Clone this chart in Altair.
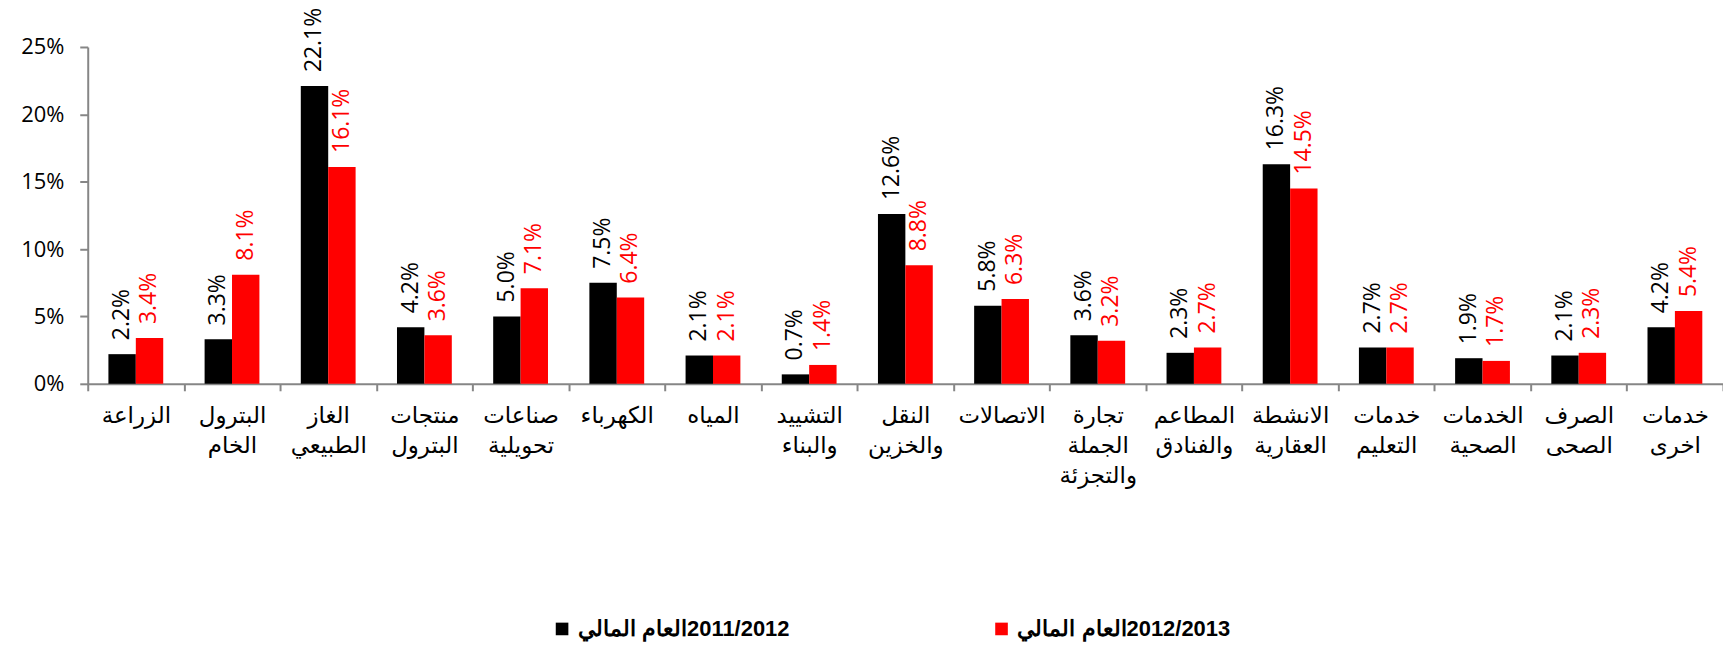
import altair as alt
import pandas as pd

# ---- data ----
categories = [
    "الزراعة",
    "البترول|الخام",
    "الغاز|الطبيعي",
    "منتجات|البترول",
    "صناعات|تحويلية",
    "الكهرباء",
    "المياه",
    "التشييد|والبناء",
    "النقل|والخزين",
    "الاتصالات",
    "تجارة|الجملة|والتجزئة",
    "المطاعم|والفنادق",
    "الانشطة|العقارية",
    "خدمات|التعليم",
    "الخدمات|الصحية",
    "الصرف|الصحى",
    "خدمات|اخرى",
]
series_names = ["2011/2012", "2012/2013"]
values_2011_2012 = [2.2, 3.3, 22.1, 4.2, 5.0, 7.5, 2.1, 0.7, 12.6, 5.8, 3.6, 2.3, 16.3, 2.7, 1.9, 2.1, 4.2]
values_2012_2013 = [3.4, 8.1, 16.1, 3.6, 7.1, 6.4, 2.1, 1.4, 8.8, 6.3, 3.2, 2.7, 14.5, 2.7, 1.7, 2.3, 5.4]
y_ticks = [0, 5, 10, 15, 20, 25]
legend_prefix = "العام المالي"
colors = ["#000000", "#ff0000"]

rows = []
for c, a, b in zip(categories, values_2011_2012, values_2012_2013):
    rows.append({"cat": c, "series": series_names[0], "value": a})
    rows.append({"cat": c, "series": series_names[1], "value": b})
df = pd.DataFrame(rows)

color_scale = alt.Scale(domain=series_names, range=colors)

x_enc = alt.X(
    "cat:N",
    sort=categories,
    scale=alt.Scale(paddingInner=0, paddingOuter=0, round=False),
    axis=alt.Axis(
        title=None,
        labelAngle=0,
        labelExpr="split(datum.label, '|')",
        labelFont="DejaVu Sans",
        labelFontSize=23,
        labelLineHeight=30,
        labelColor="#000000",
        labelPadding=14,
        labelLimit=200,
        tickBand="extent",
        tickSize=7,
        tickColor="#868686",
        tickWidth=2,
        domainColor="#868686",
        domainWidth=2,
        grid=False,
    ),
)
xoff_enc = alt.XOffset(
    "series:N",
    sort=series_names,
    scale=alt.Scale(paddingInner=0, paddingOuter=0.755, round=False),
)
y_enc = alt.Y(
    "value:Q",
    scale=alt.Scale(domain=[0, 25], nice=False, zero=True),
    axis=alt.Axis(
        title=None,
        values=y_ticks,
        labelExpr="datum.value + '%'",
        labelFont="Open Sans",
        labelFontSize=22,
        labelColor="#000000",
        labelPadding=16,
        tickSize=8,
        tickColor="#868686",
        tickWidth=2,
        domainColor="#868686",
        domainWidth=2,
        grid=False,
    ),
)

bars = alt.Chart(df).mark_bar().encode(
    x=x_enc,
    xOffset=xoff_enc,
    y=y_enc,
    color=alt.Color(
        "series:N",
        scale=color_scale,
        sort=series_names,
        legend=alt.Legend(
            title=None,
            orient="none",
            legendX=465,
            legendY=573,
            direction="horizontal",
            symbolType="square",
            symbolSize=160,
            symbolStrokeWidth=0,
            labelExpr=f"'{legend_prefix}' + '\u200e' + datum.label",
            labelFont="Liberation Sans",
            labelFontWeight="bold",
            labelFontSize=22,
            labelColor="#000000",
            labelOffset=5,
            labelLimit=400,
            columnPadding=202,
        ),
    ),
)

labels = alt.Chart(df).transform_calculate(
    txt="format(datum.value, '.1f') + '%'"
).mark_text(
    angle=270,
    align="left",
    baseline="middle",
    dx=14,
    font="Open Sans",
    fontSize=23,
).encode(
    x=alt.X("cat:N", sort=categories),
    xOffset=alt.XOffset("series:N", sort=series_names),
    y=alt.Y("value:Q"),
    text="txt:N",
    color=alt.Color("series:N", scale=color_scale, sort=series_names, legend=None),
)

chart = (
    alt.layer(bars, labels)
    .properties(
        width=1641,
        height=338,
        autosize=alt.AutoSizeParams(type="none"),
        padding={"left": 80, "top": 38, "right": 0, "bottom": 263},
        background="#ffffff",
    )
    .configure_view(stroke=None)
)

chart.save("out.html", embed_options={"renderer": "svg", "actions": False})
